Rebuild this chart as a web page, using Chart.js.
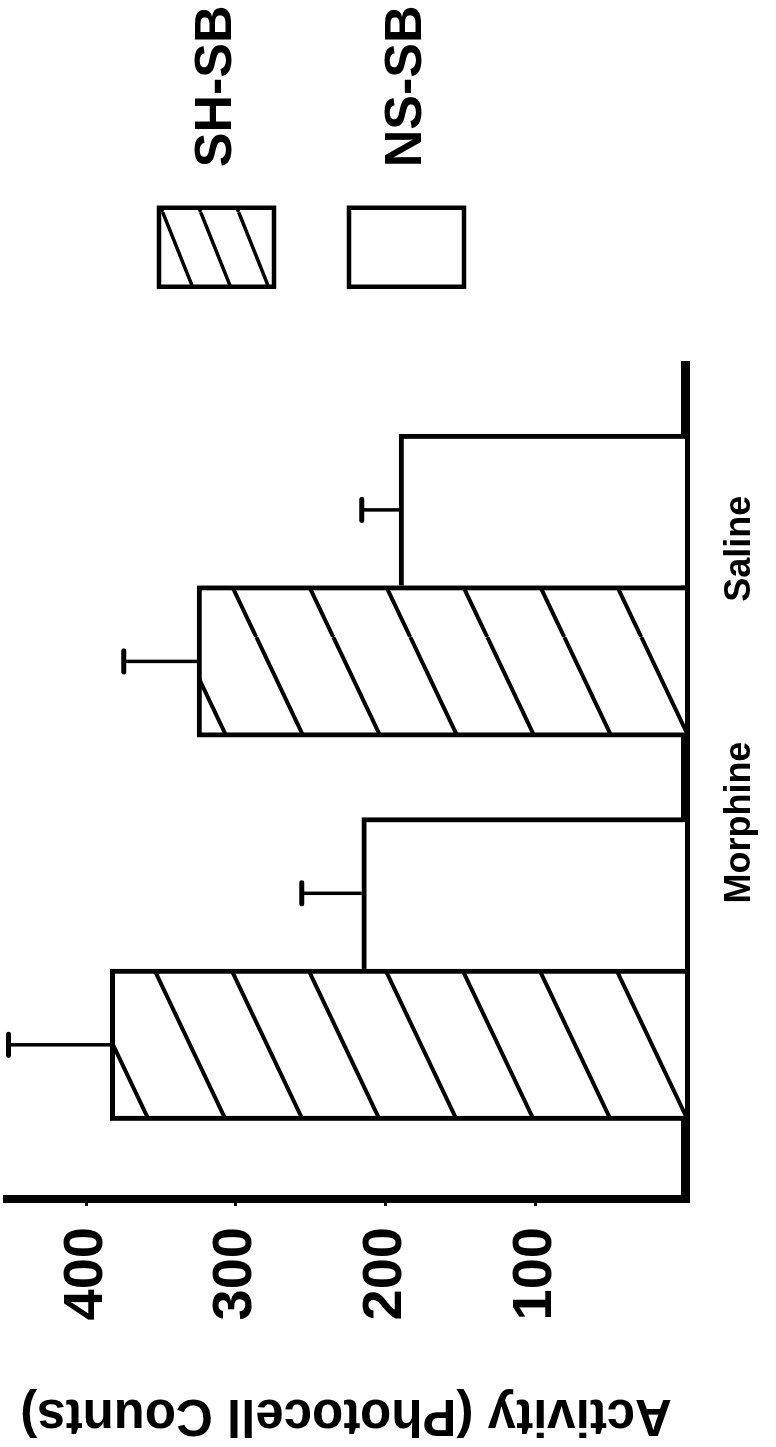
<!DOCTYPE html>
<html>
<head>
<meta charset="utf-8">
<script src="https://cdn.jsdelivr.net/npm/chart.js@4.4.0/dist/chart.umd.min.js"></script>
<style>
  html, body { margin: 0; padding: 0; background: #fff; overflow: hidden; }
  body { width: 776px; height: 1447px; position: relative; }
  /* the figure is printed sideways, so draw it upright and turn it */
  #wrap {
    position: absolute; left: 0; top: 0;
    width: 1447px; height: 776px;
    transform-origin: 0 0;
    transform: translate(0, 1447px) rotate(-90deg);
  }
  canvas { display: block; }
</style>
</head>
<body>
<div id="wrap"><canvas id="activityChart" width="1447" height="776"></canvas></div>
<script>
// data
const groups = ['Morphine', 'Saline'];
const seriesNames = ['SH-SB', 'NS-SB'];
const shValues = [384, 326];
const nsValues = [216, 191];
const shErrors = [68, 49];
const nsErrors = [40, 25];
const valueTicks = [100, 200, 300, 400];

// where the group names sit along the category axis (they are off-centre in the print)
const labelSlots = [1.382, 2.096];

const chartElement = document.getElementById('activityChart');
const ctx = chartElement.getContext('2d');

Chart.defaults.font.family = "'Liberation Sans', Arial, sans-serif";
Chart.defaults.font.weight = 'bold';
Chart.defaults.color = '#000';

// diagonal hatching tile
function hatch(w, h, phase, lw) {
    const c = document.createElement('canvas');
    c.width = w;
    c.height = h;
    const g = c.getContext('2d');
    g.fillStyle = '#fff';
    g.fillRect(0, 0, w, h);
    g.strokeStyle = '#000';
    g.lineWidth = lw;
    for (let n = -1; n <= 2; n++) {
        g.beginPath();
        g.moveTo(0, phase + n * h);
        g.lineTo(w, phase + n * h - h);
        g.stroke();
    }
    return ctx.createPattern(c, 'repeat');
}

const barHatch = [hatch(162, 77, 73.2, 4), hatch(162, 77, 25.2, 4)];
const legendHatch = hatch(95, 38, 10.6, 3.5);

const errorSets = [shErrors, nsErrors];

// error bars, drawn through the value scale
const errorBars = {
    id: 'errorBars',
    afterDatasetsDraw(chart) {
        const c = chart.ctx;
        const yScale = chart.scales.y;
        c.save();
        c.strokeStyle = '#000';
        chart.data.datasets.forEach((ds, i) => {
            const meta = chart.getDatasetMeta(i);
            meta.data.forEach((bar, j) => {
                const top = yScale.getPixelForValue(ds.data[j].y + errorSets[i][j]);
                c.lineWidth = 3.5;
                c.lineCap = 'butt';
                c.beginPath();
                c.moveTo(bar.x, bar.y);
                c.lineTo(bar.x, top);
                c.stroke();
                c.lineWidth = 5;
                c.lineCap = 'round';
                c.beginPath();
                c.moveTo(bar.x - 10.5, top);
                c.lineTo(bar.x + 10.5, top);
                c.stroke();
            });
        });
        c.restore();
    }
};

const chart = new Chart(ctx, {
    type: 'bar',
    data: {
        datasets: [{
            label: seriesNames[0],
            data: groups.map((g, i) => ({x: i + 1, y: shValues[i]})),
            backgroundColor: barHatch,
            borderColor: '#000',
            borderWidth: {top: 5, left: 5, right: 5, bottom: 0}
        }, {
            label: seriesNames[1],
            data: groups.map((g, i) => ({x: i + 1, y: nsValues[i]})),
            backgroundColor: '#fff',
            borderColor: '#000',
            borderWidth: {top: 5, left: 0, right: 5, bottom: 0}
        }]
    },
    options: {
        responsive: false,
        animation: false,
        barThickness: 151.5,
        layout: { padding: { top: 7 } },
        plugins: {
            tooltip: { enabled: false },
            legend: {
                position: 'right',
                align: 'start',
                title: { display: true, text: '', font: { size: 10, lineHeight: 1 }, padding: { top: 67, bottom: 0 } },
                labels: {
                    boxWidth: 79,
                    boxHeight: 115,
                    padding: 75,
                    color: '#000',
                    font: { size: 52, weight: 'bold' },
                    generateLabels: (ch) => ch.data.datasets.map((ds, i) => ({
                        text: ' ' + ds.label,
                        fillStyle: i === 0 ? legendHatch : '#fff',
                        strokeStyle: '#000',
                        lineWidth: 4.5,
                        fontColor: '#000',
                        hidden: false,
                        datasetIndex: i
                    }))
                }
            }
        },
        scales: {
            x: {
                type: 'linear',
                offset: false,
                min: 0.40026,
                max: 2.58399,
                afterFit: (s) => { s.height = 91; s.paddingLeft = 0; s.paddingRight = 0; },
                afterBuildTicks: (s) => { s.ticks = labelSlots.map(v => ({value: v})); },
                grid: { display: false, drawTicks: false },
                border: { display: true, color: '#000', width: 9 },
                ticks: {
                    autoSkip: false,
                    maxRotation: 0,
                    minRotation: 0,
                    padding: 33,
                    color: '#000',
                    font: { size: 36, weight: 'bold' },
                    callback: (value, index) => groups[index]
                }
            },
            y: {
                type: 'linear',
                min: 0,
                max: 453,
                afterFit: (s) => { s.width = 248; s.paddingTop = 0; s.paddingBottom = 0; },
                afterBuildTicks: (s) => { s.ticks = valueTicks.map(v => ({value: v})); },
                grid: { drawOnChartArea: false, drawTicks: true, tickLength: 7, lineWidth: 3, color: '#000' },
                border: { display: true, color: '#000', width: 8 },
                ticks: {
                    padding: 21,
                    color: '#000',
                    font: { size: 56, weight: 'bold' }
                },
                title: {
                    display: true,
                    text: 'Activity (Photocell Counts)',
                    color: '#000',
                    padding: { top: 7, bottom: 0 },
                    font: { size: 51, weight: 'bold', lineHeight: 1 }
                }
            }
        }
    },
    plugins: [errorBars]
});
</script>
</body>
</html>
